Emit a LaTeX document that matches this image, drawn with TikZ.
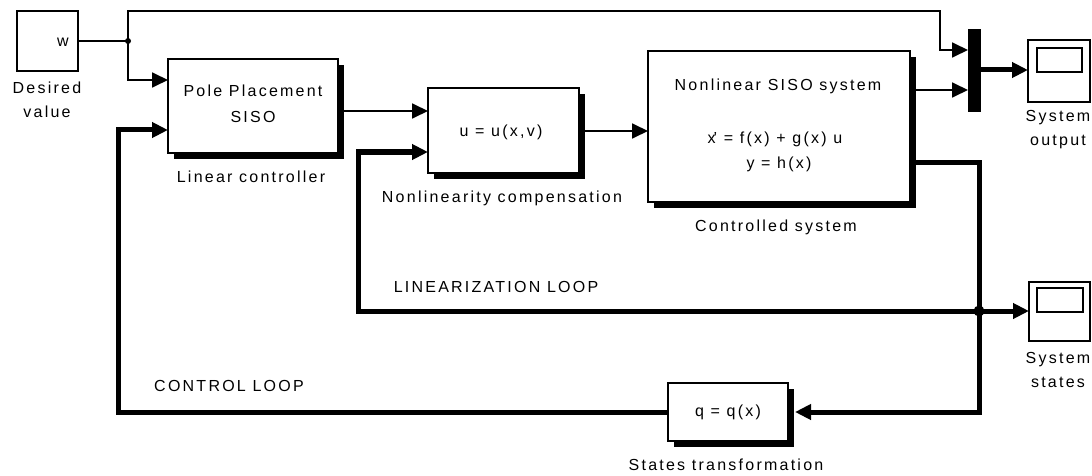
\documentclass[tikz,border=0pt]{standalone}
\usepackage{fontspec}
\setmainfont{Liberation Sans}[LetterSpace=14]
\usetikzlibrary{arrows.meta,shadows,calc}
\begin{document}
\begin{tikzpicture}[x=1pt,y=-1pt,
  blk/.style={draw, line width=1.6pt, fill=white, inner sep=0pt, outer sep=0pt,
    drop shadow={shadow xshift=6pt, shadow yshift=-6pt, opacity=1, fill=black}},
  plainblk/.style={draw, line width=1.6pt, fill=white, inner sep=0pt, outer sep=0pt},
  txt/.style={inner sep=0pt, outer sep=0pt, font=\fontsize{16}{24}\selectfont, align=center},
  thn/.style={line width=1.8pt},
  thk/.style={line width=5pt},
  arr/.style={-{Triangle[length=16pt,width=15pt]}}
]
\useasboundingbox (0,0) rectangle (1092,476);

% blocks
\node[plainblk, minimum width=61pt, minimum height=60pt] (dv) at (47.5,41) {};
\node[txt] (w) at (63,42) {w};
\node[blk, minimum width=170pt, minimum height=94pt] (pp) at (253,106) {};
\node[txt, font=\fontsize{16}{26}\selectfont] (pptxt) at (253,104) {Pole Placement\\SISO};
\node[blk, minimum width=151pt, minimum height=85pt] (ub) at (503.5,130.5) {};
\node[txt] (utxt) at (501,132) {u = u(x,v)};
\node[blk, minimum width=262pt, minimum height=151pt] (nl) at (779,126.5) {};
\node[txt] (nltxt1) at (778,86) {Nonlinear SISO system};
\node[txt] (nltxt2) at (775,139) {x\kern-2pt' = f(x) + g(x) u};
\node[txt] (nltxt3) at (779,164) {y = h(x)};
\node[draw, fill=black, line width=0pt, inner sep=0pt, outer sep=0pt, minimum width=12pt, minimum height=82pt] (mux) at (974,71) {};
\node[plainblk, minimum width=62pt, minimum height=62pt] (s1) at (1059,71) {};
\draw[line width=1.6pt] (1037,48) rectangle (1082,72);
\node[plainblk, minimum width=61pt, minimum height=59pt] (s2) at (1059.5,311.5) {};
\draw[line width=1.6pt] (1037,288) rectangle (1083,312);
\node[blk, shadow xshift=7pt, minimum width=120pt, minimum height=58pt] (q) at (728,412) {};
\node[txt] (qtxt) at (728,412) {q = q(x)};

% labels
\node[txt] (dvl) at (47,100) {Desired\\value};
\node[txt] (ppl) at (251,177) {Linear controller};
\node[txt] (ubl) at (502,198) {Nonlinearity compensation};
\node[txt] (nll) at (776,227) {Controlled system};
\node[txt] (ql) at (726,465) {States transformation};
\node[txt] (s1l) at (1058,130) {System\\output};
\node[txt] (s2l) at (1058,370) {System\\states};
\node[txt] (linl) at (496,287) {LINEARIZATION LOOP};
\node[txt] (ctrl) at (229,386) {CONTROL LOOP};

% ports and junctions
\coordinate (j1) at (128,41);
\coordinate (j2) at (979,311);
\coordinate (ppin1) at (168,80);
\coordinate (ppin2) at (168,130);
\coordinate (ppout) at (338,111);
\coordinate (uin1) at (428,111);
\coordinate (uin2) at (428,152);
\coordinate (uout) at (579,131);
\coordinate (nlin) at (648,131);
\coordinate (nlout1) at (910,90);
\coordinate (nlout2) at (910,162);
\coordinate (muxin1) at (968,50);
\coordinate (muxin2) at (968,90);
\coordinate (muxout) at (980,70);
\coordinate (s1in) at (1028,70);
\coordinate (s2in) at (1029,311);
\coordinate (qin) at (795,412);
\coordinate (qout) at (668,412);

% thin connectors
\draw[thn] (dv.east |- j1) -- (j1);
\draw[thn, arr] (j1) |- (ppin1);
\draw[thn, arr] (j1) -- (128,11) -- (940,11) -- (940,50) -- (muxin1);
\draw[thn, arr] (ppout) -- (uin1);
\draw[thn, arr] (uout) -- (nlin);
\draw[thn, arr] (nlout1) -- (muxin2);
\fill (j1) circle (3pt);

% thick connectors
\draw[thk, arr] (muxout) -- (s1in);
\draw[thk, arr] (nlout2) -- (979,162) -- (979,412) -- (qin);
\draw[thk, arr] (j2) -- (s2in);
\draw[thk, arr] (j2) -- (358,311) -- (358,152) -- (uin2);
\draw[thk, arr] (qout) -- (118,412) -- (118,130) -- (ppin2);
\fill (j2) circle (5.5pt);
\end{tikzpicture}
\end{document}
